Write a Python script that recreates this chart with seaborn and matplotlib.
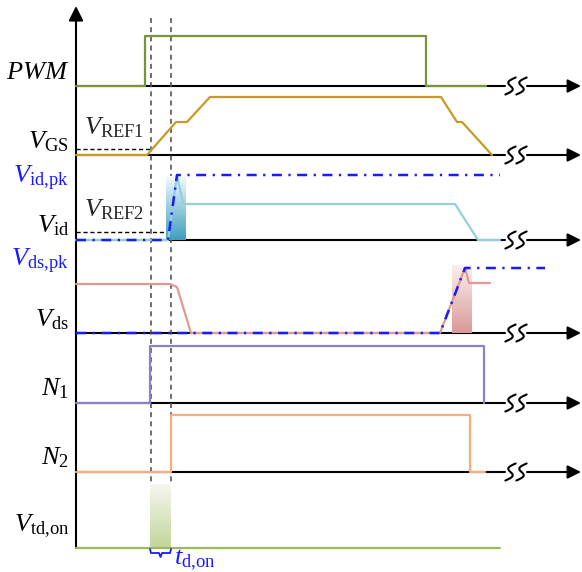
import numpy as np
import seaborn as sns
import matplotlib.pyplot as plt
from matplotlib.colors import LinearSegmentedColormap

# channel baselines (top to bottom)
channels = ["PWM", "VGS", "Vid", "Vds", "N1", "N2", "Vtd"]
baseline_y = [86, 155, 240, 333, 403, 472, 548]

# waveforms: time points and level above baseline
pwm_t = [76, 145, 145, 426, 426, 486]
pwm_v = [0, 0, 50, 50, 0, 0]
vgs_t = [76, 147, 176, 187, 210, 441, 457, 462, 492]
vgs_v = [0, 0, 33, 33, 58, 58, 33, 33, 0]
vid_t = [76, 168, 177, 183, 455, 478, 500]
vid_v = [0, 0, 65, 36, 36, 0, 0]
vidpk_t = [76, 168, 177, 500]
vidpk_v = [0, 0, 65, 65]
vds_t = [76, 170, 177, 191, 440, 465, 469, 490]
vds_v = [49, 49, 46, 0, 0, 65, 50, 50]
vdspk_t = [76, 440, 465, 545]
vdspk_v = [0, 0, 65, 65]
n1_t = [76, 150, 150, 484, 484]
n1_v = [0, 0, 57, 57, 0]
n2_t = [76, 171, 171, 470, 470, 485]
n2_v = [0, 0, 57, 57, 0, 0]
vtd_t = [76, 500]
vtd_v = [0, 0]

# thresholds and event times
vref1 = 6
vref2 = 8
t_pwm_on = 151
t_id_on = 171

sns.set_theme(style="white")
plt.rcParams["font.family"] = ["Liberation Serif", "DejaVu Serif"]
plt.rcParams["mathtext.fontset"] = "custom"
plt.rcParams["mathtext.rm"] = "Liberation Serif"
plt.rcParams["mathtext.it"] = "Liberation Serif:italic"

fig = plt.figure(figsize=(5.82, 5.72), dpi=100)
ax = fig.add_axes([0, 0, 1, 1])
ax.set_xlim(0, 582)
ax.set_ylim(572, 0)
ax.axis("off")

x0 = 76
blue = "#1a1aff"
dashdot = (0, (4, 2.6, 0.9, 2.6))


def ss_break(cx, cy):
    s = np.linspace(0, 1, 80)
    w, h = 9, 17
    for off in (-5.5, 5.5):
        xs = cx + off + w / 2 * np.sin(2 * np.pi * s) + 0.7 * w * (s - 0.5) + 4 * (s - 0.5)
        ys = cy + h / 2 - h * s
        ax.plot(xs, ys, color="black", lw=1.5, solid_capstyle="round", zorder=2)


# black time axes with breaks
for y in baseline_y[:-1]:
    ax.plot([x0, 505], [y, y], color="black", lw=1.5, zorder=1)
    ss_break(516, y)
    ax.annotate("", xy=(581, y), xytext=(527, y),
                arrowprops=dict(arrowstyle="-|>", color="black", lw=1.5,
                                mutation_scale=20, shrinkA=0, shrinkB=0))

# vertical axis
ax.annotate("", xy=(x0, 6), xytext=(x0, 548),
            arrowprops=dict(arrowstyle="-|>", color="black", lw=1.5,
                            mutation_scale=22, shrinkA=0, shrinkB=0))

# dashed time markers
for t in (t_pwm_on, t_id_on):
    ax.plot([t, t], [18, 484], color="#555555", lw=1.2, ls=(0, (3, 2.5)), zorder=2)


def gradient_box(x1, x2, ytop, ybot, c_top, c_bot, z=3):
    cmap = LinearSegmentedColormap.from_list("g", [c_top, c_bot])
    grad = np.linspace(0, 1, 100).reshape(-1, 1)
    ax.imshow(grad, cmap=cmap, extent=(x1, x2, ybot, ytop), aspect="auto", zorder=z)


gradient_box(166, 186, 176, 240, "#f2fafc", "#3f9fbd")
gradient_box(452, 472, 265, 333, "#fbeeee", "#d99a98")
gradient_box(150, 171, 484, 548, "#f6f6ef", "#c2d69a")


def wave(t, v, base, color, lw=1.6, ls="-", z=4):
    y = [base - a for a in v]
    sns.lineplot(x=t, y=y, ax=ax, sort=False, estimator=None, color=color,
                 lw=lw, linestyle=ls, zorder=z, legend=False)


b = dict(zip(channels, baseline_y))
wave(pwm_t, pwm_v, b["PWM"], "#77933c")
wave(vgs_t, vgs_v, b["VGS"], "#c79a22")
wave(vid_t, vid_v, b["Vid"], "#93cfdc")
wave(vidpk_t, vidpk_v, b["Vid"], blue, lw=1.8, ls=dashdot, z=5)
wave(vds_t, vds_v, b["Vds"], "#e09a94")
wave(vdspk_t, vdspk_v, b["Vds"], blue, lw=1.8, ls=dashdot, z=5)
wave(n1_t, n1_v, b["N1"], "#8a82c2")
wave(n2_t, n2_v, b["N2"], "#f8ad7e")
wave(vtd_t, vtd_v, b["Vtd"], "#9bbb59")

# reference thresholds
ax.plot([x0, t_pwm_on], [b["VGS"] - vref1] * 2, color="black", lw=1, ls=(0, (3, 2)), zorder=2)
ax.plot([x0, 168], [b["Vid"] - vref2] * 2, color="black", lw=1, ls=(0, (3, 2)), zorder=2)

# brace for t_d,on
ax.plot([150, 151, 159, 160.5, 162, 170, 171],
        [549, 553, 553, 557, 553, 553, 549], color=blue, lw=1.3, zorder=6)

fs = 19
labels = [
    (r"$PWM$", 73, "black"),
    (r"$V_{\mathrm{GS}}$", 142, "black"),
    (r"$V_{\mathrm{id{,}pk}}$", 178, blue),
    (r"$V_{\mathrm{id}}$", 226, "black"),
    (r"$V_{\mathrm{ds{,}pk}}$", 261, blue),
    (r"$V_{\mathrm{ds}}$", 320, "black"),
    (r"$N_{1}$", 389, "black"),
    (r"$N_{2}$", 458, "black"),
    (r"$V_{\mathrm{td{,}on}}$", 526, "black"),
]
for txt, y, c in labels:
    ax.text(69, y, txt, ha="right", va="center", fontsize=fs, color=c)

ax.text(84, 128, r"$V_{\mathrm{REF1}}$", ha="left", va="center", fontsize=fs)
ax.text(84, 210, r"$V_{\mathrm{REF2}}$", ha="left", va="center", fontsize=fs)
ax.text(174, 560, r"$t_{\mathrm{d{,}on}}$", ha="left", va="center", fontsize=fs, color=blue)

fig.savefig("out.png", dpi=100)
